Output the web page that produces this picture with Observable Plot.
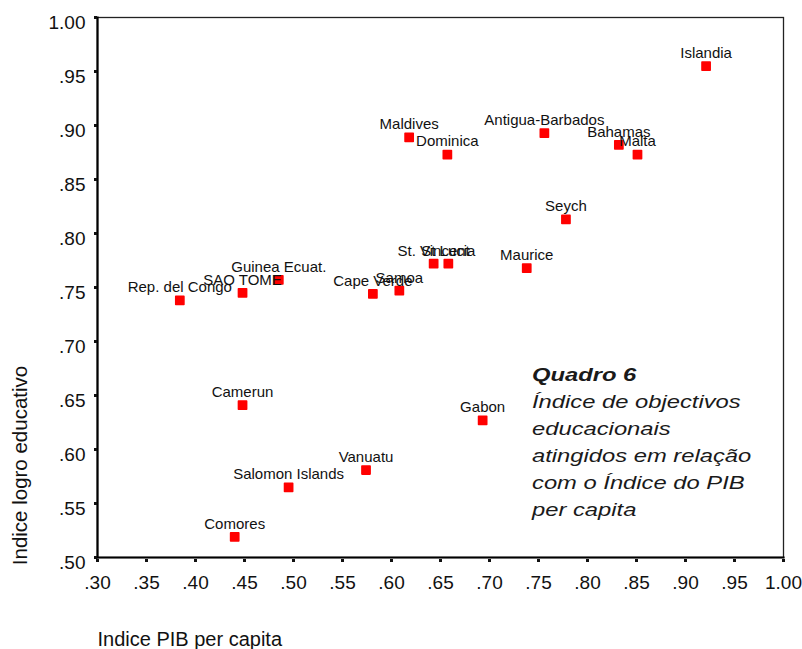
<!DOCTYPE html>
<html><head><meta charset="utf-8">
<script src="https://cdn.jsdelivr.net/npm/d3@7"></script>
<script src="https://cdn.jsdelivr.net/npm/@observablehq/plot@0.6"></script>
<style>
body{margin:0;background:#fff;}
#wrap{position:relative;width:802px;height:649px;overflow:hidden;}
#note{position:absolute;left:532px;top:362px;font-family:"Liberation Sans",Arial,sans-serif;font-style:italic;font-size:18px;line-height:27px;color:#1a1a1a;transform:scaleX(1.32);transform-origin:left top;white-space:nowrap;}
</style></head><body>
<div id="wrap"><div id="note"><b>Quadro 6</b><br>Índice de objectivos<br>educacionais<br>atingidos em relação<br>com o Índice do PIB<br>per capita</div></div>
<script>
const countries = ["Islandia","Maldives","Dominica","Antigua-Barbados","Bahamas","Malta","Seych","St. Vincent","St Lucia","Maurice","Samoa","Cape Verde","Guinea Ecuat.","SAO TOME","Rep. del Congo","Camerun","Gabon","Vanuatu","Salomon Islands","Comores"];
const pib  = [0.921,0.618,0.657,0.756,0.832,0.851,0.778,0.643,0.658,0.738,0.608,0.581,0.485,0.448,0.384,0.448,0.693,0.574,0.495,0.440];
const educ = [0.955,0.889,0.873,0.893,0.882,0.873,0.813,0.772,0.772,0.768,0.747,0.744,0.757,0.745,0.738,0.641,0.627,0.581,0.565,0.519];
const xTicks = [0.30,0.35,0.40,0.45,0.50,0.55,0.60,0.65,0.70,0.75,0.80,0.85,0.90,0.95,1.00];
const yTicks = [0.50,0.55,0.60,0.65,0.70,0.75,0.80,0.85,0.90,0.95,1.00];
const xTitle = "Indice PIB per capita";
const yTitle = "Indice logro educativo";

const data = countries.map((c, i) => ({name: c, x: pib[i], y: educ[i]}));
const fmt = d => d3.format(".2f")(d).replace(/^0\./, ".");
const font = "'Liberation Sans', Arial, sans-serif";

const chart = Plot.plot({
  width: 802, height: 649,
  marginLeft: 97, marginRight: 19, marginTop: 17, marginBottom: 92,
  style: {fontFamily: font, background: "#fff", color: "#111"},
  x: {domain: [0.3, 1.0], ticks: xTicks},
  y: {domain: [0.5, 1.0], ticks: yTicks},
  marks: [
    Plot.frame({stroke: "#222", strokeWidth: 1.3}),
    Plot.frame({anchor: "left", stroke: "#000", strokeWidth: 2.2}),
    Plot.frame({anchor: "bottom", stroke: "#000", strokeWidth: 2.2}),
    Plot.axisX({ticks: xTicks, tickSize: 3, strokeWidth: 3, dy: 2, tickFormat: () => "", label: null}),
    Plot.axisX({ticks: xTicks, tickSize: 0, tickPadding: 18, tickFormat: fmt, fontSize: 19, fill: "#111", label: null}),
    Plot.axisY({ticks: yTicks, tickSize: 3, strokeWidth: 3, tickFormat: () => "", label: null}),
    Plot.axisY({ticks: yTicks, tickSize: 0, tickPadding: 12, dy: 5, tickFormat: fmt, fontSize: 19, fill: "#111", label: null}),
    Plot.dot(data, {x: "x", y: "y", symbol: "square", r: 4.6, fill: "#ff0000", stroke: "#ff0000", strokeWidth: 1.6, strokeLinejoin: "round"}),
    Plot.text(data, {x: "x", y: "y", text: "name", dy: -13, fontSize: 15, fill: "#111"}),
    Plot.text([xTitle], {frameAnchor: "bottom-left", textAnchor: "start", lineAnchor: "middle", dy: 82, fontSize: 20, fill: "#111"}),
    Plot.text([yTitle], {frameAnchor: "left", rotate: -90, dx: -77, dy: 178, textAnchor: "middle", lineAnchor: "middle", fontSize: 20.5, fill: "#111"})
  ]
});
document.getElementById("wrap").prepend(chart);
</script>
</body></html>
